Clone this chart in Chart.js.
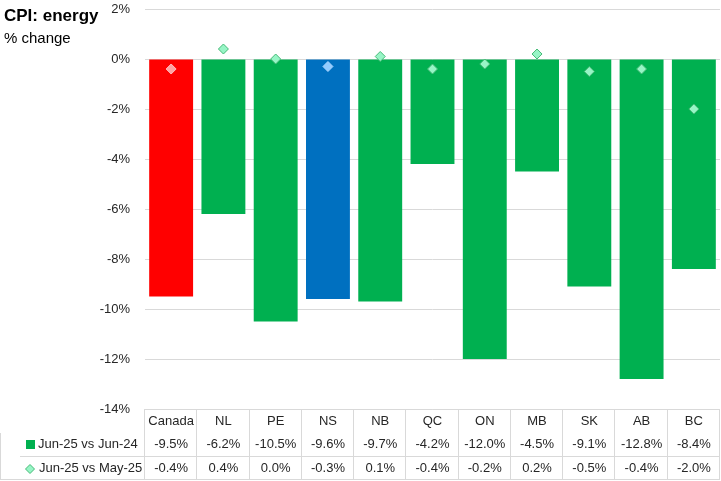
<!DOCTYPE html>
<html>
<head>
<meta charset="utf-8">
<script src="https://cdn.jsdelivr.net/npm/chart.js@4/dist/chart.umd.min.js"></script>
<style>
  html, body { margin: 0; padding: 0; background: #fff; }
  #wrap { position: relative; width: 721px; height: 481px; overflow: hidden; }
  #c { position: absolute; left: 0; top: 0; }
  .t1 { position: absolute; left: 4px; top: 6px; font: bold 17px "Liberation Sans", Arial, sans-serif; color: #000; white-space: nowrap; }
  .t2 { position: absolute; left: 4px; top: 29px; font: 15px "Liberation Sans", Arial, sans-serif; color: #000; white-space: nowrap; }
</style>
</head>
<body>
<div id="wrap">
  <canvas id="c" width="721" height="481"></canvas>
  <div class="t1">CPI: energy</div>
  <div class="t2">% change</div>
</div>
<script>
const categories = ['Canada', 'NL', 'PE', 'NS', 'NB', 'QC', 'ON', 'MB', 'SK', 'AB', 'BC'];
const yoyValues = [-9.5, -6.2, -10.5, -9.6, -9.7, -4.2, -12.0, -4.5, -9.1, -12.8, -8.4];
const momValues = [-0.4, 0.4, 0.0, -0.3, 0.1, -0.4, -0.2, 0.2, -0.5, -0.4, -2.0];
const seriesNames = ['Jun-25 vs Jun-24', 'Jun-25 vs May-25'];
const yMin = -14, yMax = 2, yStep = 2;

const GREEN = '#00B050', RED = '#FF0000', BLUE = '#0070C0';
const barColors = categories.map(c => c === 'Canada' ? RED : (c === 'NS' ? BLUE : GREEN));
const dotFill = categories.map(c => c === 'Canada' ? '#FFA3A3' : (c === 'NS' ? '#94CCFF' : '#97F5C6'));
const dotBorder = categories.map(c => c === 'Canada' ? '#FFBDBD' : (c === 'NS' ? '#ABD6FF' : '#45BA76'));

const FONT = '"Liberation Sans", Arial, sans-serif';
const TXT = '#262626';
const LINE = '#D9D9D9';
const fmt = v => v.toFixed(1) + '%';

const tablePlugin = {
  id: 'dataTable',
  afterDraw(chart) {
    const ctx = chart.ctx;
    const x = chart.scales.x;
    const area = chart.chartArea;
    const top = area.bottom;
    const bottom = 479.5;
    const rowY = [421, 444.5, 468.5];
    const midLine = 456.5;
    const n = categories.length;
    const step = (area.right - area.left) / n;
    ctx.save();
    ctx.strokeStyle = LINE;
    ctx.lineWidth = 1;
    ctx.beginPath();
    ctx.moveTo(area.left, top + 0.5); ctx.lineTo(area.right, top + 0.5);
    for (let i = 0; i <= n; i++) {
      const px = Math.round(area.left + i * step) - 0.5;
      ctx.moveTo(px, top); ctx.lineTo(px, bottom);
    }
    ctx.moveTo(20, midLine); ctx.lineTo(area.right, midLine);
    ctx.moveTo(0, bottom); ctx.lineTo(area.right, bottom);
    ctx.moveTo(0.5, 433); ctx.lineTo(0.5, bottom);
    ctx.stroke();

    ctx.fillStyle = TXT;
    ctx.font = '13px ' + FONT;
    ctx.textAlign = 'center';
    ctx.textBaseline = 'middle';
    categories.forEach((c, i) => {
      const cx = x.getPixelForValue(i);
      ctx.fillText(c, cx, rowY[0]);
      ctx.fillText(fmt(yoyValues[i]), cx, rowY[1]);
      ctx.fillText(fmt(momValues[i]), cx, rowY[2]);
    });
    ctx.textAlign = 'left';
    ctx.fillText(seriesNames[0], 38, rowY[1]);
    ctx.fillText(seriesNames[1], 39, rowY[2]);
    ctx.fillStyle = GREEN;
    ctx.fillRect(26, 440, 9, 9);
    ctx.beginPath();
    const dx = 30, dy = 469, r = 4.5;
    ctx.moveTo(dx - r, dy); ctx.lineTo(dx, dy - r); ctx.lineTo(dx + r, dy); ctx.lineTo(dx, dy + r); ctx.closePath();
    ctx.fillStyle = '#97F5C6';
    ctx.fill();
    ctx.strokeStyle = '#45BA76';
    ctx.stroke();
    ctx.restore();
  }
};

new Chart(document.getElementById('c'), {
  data: {
    labels: categories,
    datasets: [
      {
        type: 'scatter',
        label: seriesNames[1],
        data: momValues.map((v, i) => ({ x: i, y: v })),
        xAxisID: 'x',
        showLine: false,
        pointStyle: 'rectRot',
        pointRadius: 5,
        pointHoverRadius: 5,
        pointBackgroundColor: dotFill,
        pointBorderColor: dotBorder,
        pointBorderWidth: 1,
        order: 0
      },
      {
        type: 'bar',
        label: seriesNames[0],
        data: yoyValues,
        backgroundColor: barColors,
        borderWidth: 0,
        categoryPercentage: 1.0,
        barPercentage: 0.84,
        order: 1
      }
    ]
  },
  options: {
    responsive: false,
    animation: false,
    devicePixelRatio: 1,
    layout: { autoPadding: false, padding: { top: 9, bottom: 72, left: 0, right: 1 } },
    plugins: { legend: { display: false }, tooltip: { enabled: false }, title: { display: false } },
    scales: {
      x: {
        type: 'category',
        offset: true,
        display: true,
        afterFit(s) { s.height = 0; s.paddingTop = 0; s.paddingBottom = 0; },
        grid: { display: false, drawTicks: false },
        border: { display: false },
        ticks: { display: false }
      },
      y: {
        min: yMin,
        max: yMax,
        afterFit(s) { s.width = 145; s.paddingTop = 0; s.paddingBottom = 0; },
        ticks: {
          stepSize: yStep,
          padding: 15,
          color: TXT,
          font: { family: FONT, size: 13 },
          callback: v => v + '%'
        },
        grid: { color: LINE, lineWidth: 1, drawTicks: false },
        border: { display: false }
      }
    }
  },
  plugins: [tablePlugin]
});
</script>
</body>
</html>
